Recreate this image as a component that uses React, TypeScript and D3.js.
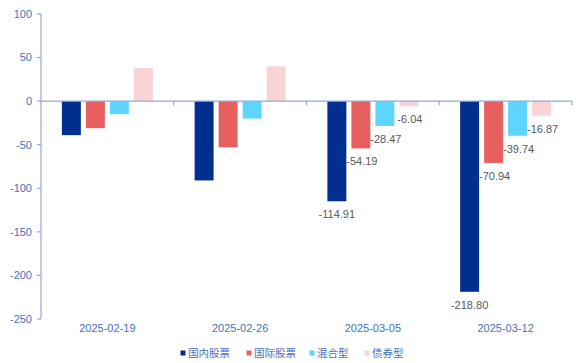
import * as d3 from "d3";

const W = 576;
const H = 363;
const PLOT = { left: 41, right: 572, top: 14, bottom: 319 };

const dates = ["2025-02-19", "2025-02-26", "2025-03-05", "2025-03-12"];
const seriesNames = ["国内股票", "国际股票", "混合型", "债券型"];
const colors = ["#00308F", "#E85F5F", "#5DD5FF", "#F9D4D4"];

const domestic = [-39, -91, -114.91, -218.8];
const intl = [-31, -53, -54.19, -70.94];
const mixed = [-15, -20, -28.47, -39.74];
const bond = [38, 40, -6.04, -16.87];

// only the last two weeks carry labels in the original
const labelled = ["2025-03-05", "2025-03-12"];
const yTicks = [100, 50, 0, -50, -100, -150, -200, -250];

const seriesValues = [domestic, intl, mixed, bond];

const AXIS = "#8EA9DB";
const TEXT = "#4472C4";
const NUM_FONT = "'Liberation Sans', Arial, sans-serif";
const CJK_FONT = "'Noto Sans CJK SC', sans-serif";

export default function App() {
  const x = d3.scaleBand<string>().domain(dates).range([PLOT.left, PLOT.right]);
  const inner = d3
    .scaleBand<string>()
    .domain(seriesNames)
    .range([0, x.bandwidth()])
    .paddingInner(0.21)
    .paddingOuter(0.87);
  const y = d3.scaleLinear().domain([-250, 100]).range([PLOT.bottom, PLOT.top]);

  const legendX = [183, 249, 312, 367];

  return (
    <svg
      width={W}
      height={H}
      style={{ position: "absolute", left: 0, top: 0, background: "#fff" }}
      fontFamily={NUM_FONT}
    >
      {/* bars */}
      {dates.map((d, i) => (
        <g key={d} transform={`translate(${x(d)},0)`}>
          {seriesNames.map((s, j) => {
            const v = seriesValues[j][i];
            const y0 = y(Math.max(0, v));
            const y1 = y(Math.min(0, v));
            return (
              <rect
                key={s}
                x={inner(s)}
                y={y0}
                width={inner.bandwidth()}
                height={y1 - y0}
                fill={colors[j]}
              />
            );
          })}
          {labelled.includes(d) &&
            seriesNames.map((s, j) => {
              const v = seriesValues[j][i];
              return (
                <text
                  key={s}
                  x={(inner(s) ?? 0) + inner.bandwidth() / 2 + (j === 0 ? 0 : 1)}
                  y={y(v) + 17}
                  textAnchor="middle"
                  fontSize={11}
                  fill="#595959"
                >
                  {v.toFixed(2)}
                </text>
              );
            })}
        </g>
      ))}

      {/* y axis */}
      <line x1={PLOT.left} x2={PLOT.left} y1={PLOT.top} y2={PLOT.bottom} stroke={AXIS} strokeWidth={1.2} />
      {yTicks.map((t) => (
        <g key={t}>
          <line x1={PLOT.left - 4} x2={PLOT.left} y1={y(t)} y2={y(t)} stroke={AXIS} strokeWidth={1.2} />
          <text x={PLOT.left - 9} y={y(t)} dy="0.35em" textAnchor="end" fontSize={11} fill={TEXT}>
            {t}
          </text>
        </g>
      ))}

      {/* x axis at zero */}
      <line x1={PLOT.left} x2={PLOT.right} y1={y(0)} y2={y(0)} stroke={AXIS} strokeWidth={1.2} />
      {dates.map((d) => (
        <g key={d}>
          <line
            x1={(x(d) ?? 0) + x.bandwidth()}
            x2={(x(d) ?? 0) + x.bandwidth()}
            y1={y(0)}
            y2={y(0) + 4}
            stroke={AXIS}
            strokeWidth={1.2}
          />
          <text
            x={(x(d) ?? 0) + x.bandwidth() / 2}
            y={PLOT.bottom + 13}
            textAnchor="middle"
            fontSize={11}
            fill={TEXT}
          >
            {d}
          </text>
        </g>
      ))}

      {/* legend */}
      {seriesNames.map((s, j) => (
        <g key={s} transform={`translate(${legendX[j]},353)`}>
          <rect x={-2.5} y={-2.5} width={5} height={5} fill={colors[j]} />
          <text x={5} dy="0.35em" fontSize={10.5} fill={TEXT} fontFamily={CJK_FONT}>
            {s}
          </text>
        </g>
      ))}
    </svg>
  );
}
